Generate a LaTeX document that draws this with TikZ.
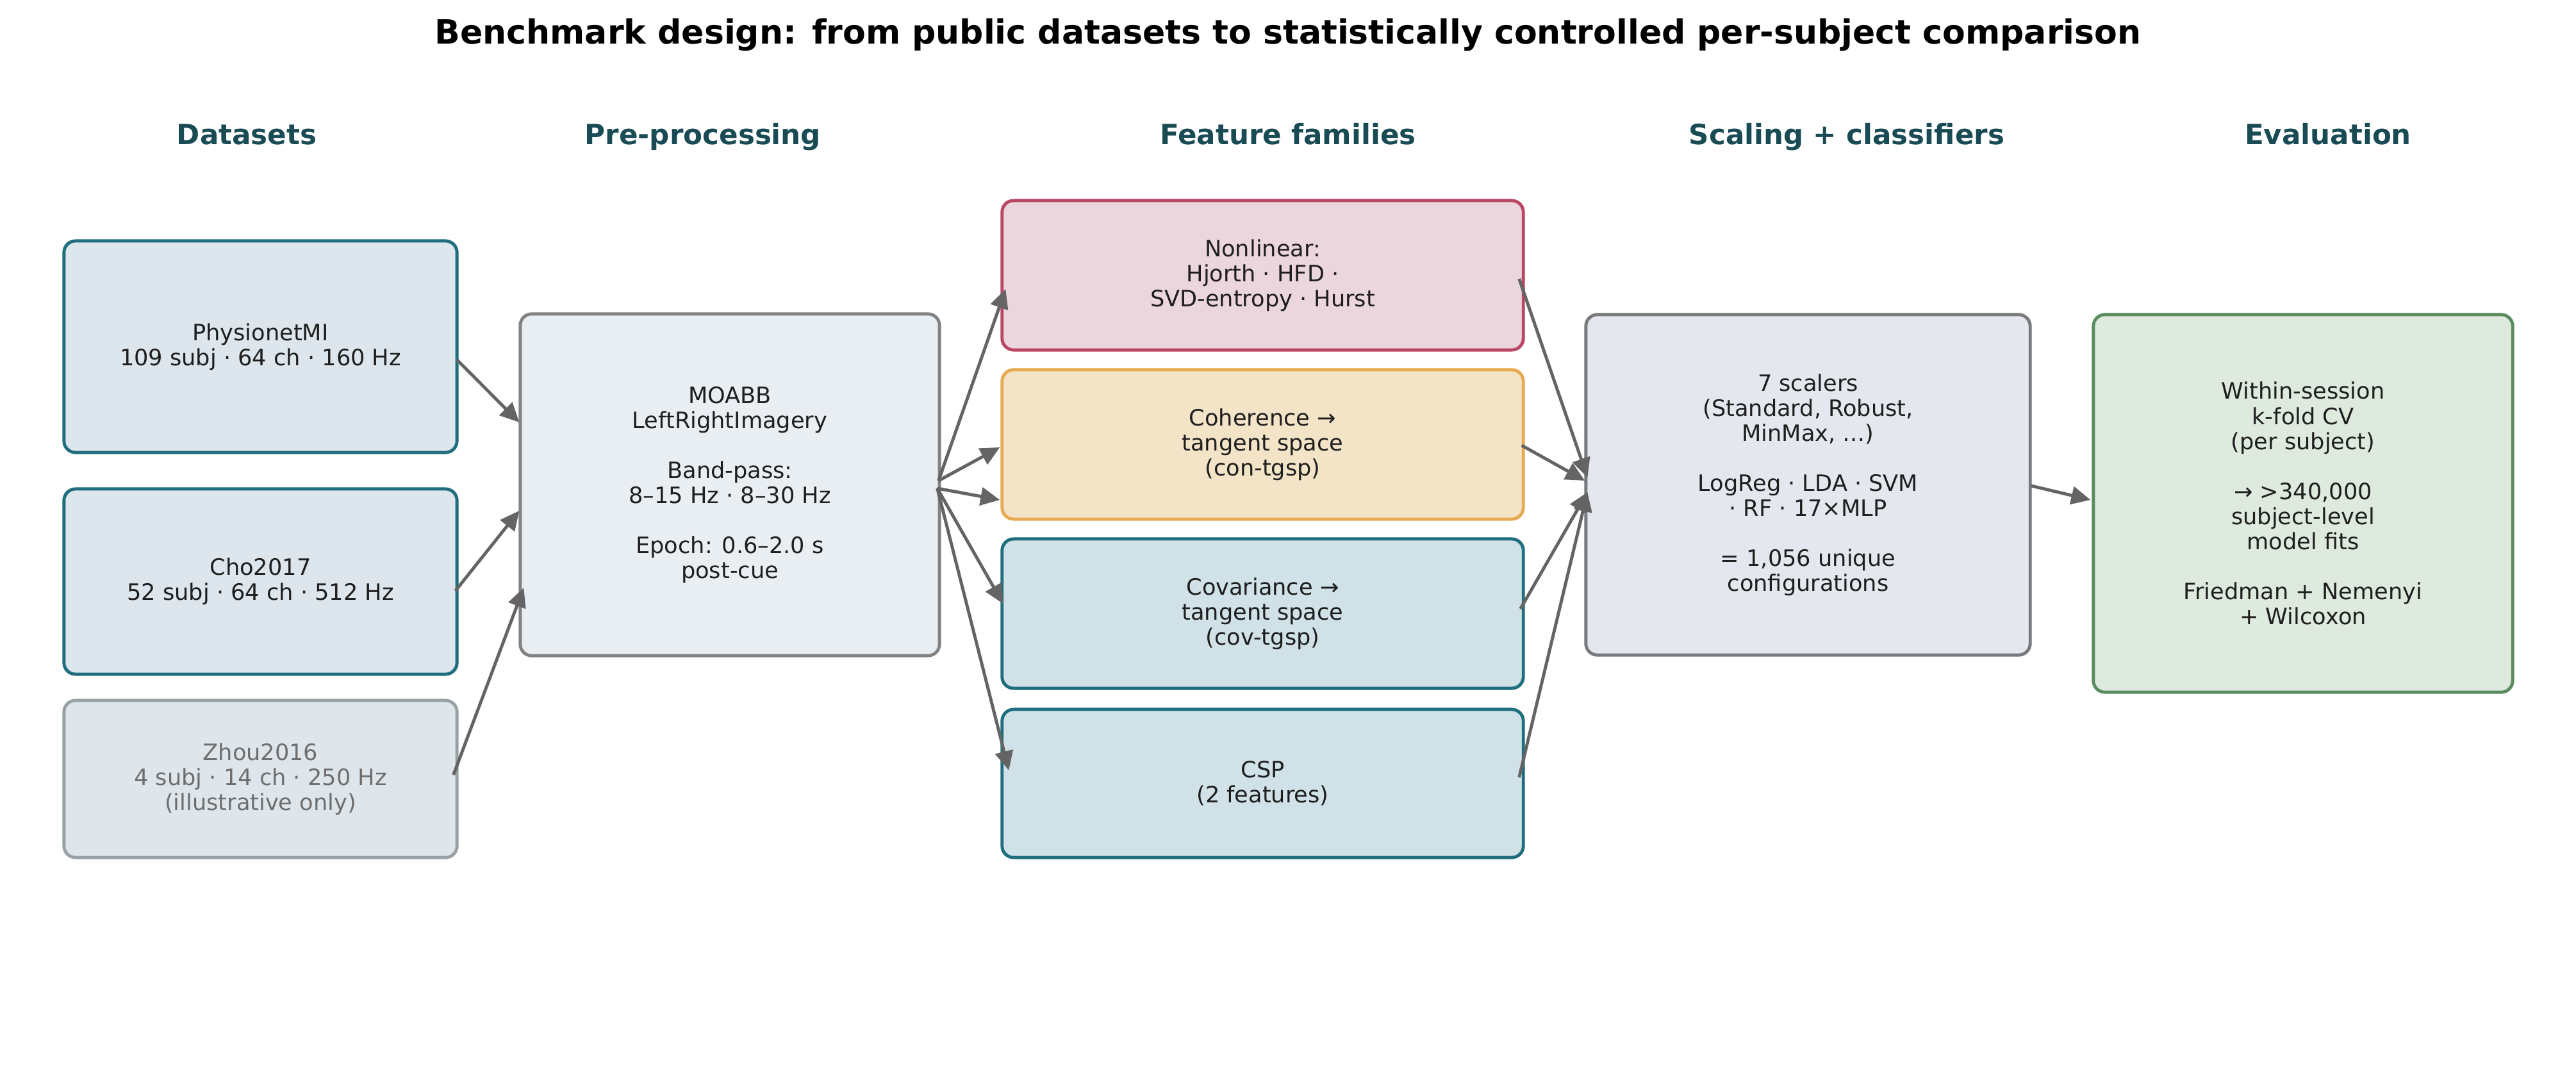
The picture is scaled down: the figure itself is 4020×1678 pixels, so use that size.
\documentclass[tikz,border=0pt]{standalone}
\usepackage{fontspec}
\setmainfont{DejaVu Sans}
\usetikzlibrary{arrows.meta,calc}
\definecolor{txt}{RGB}{30,30,30}
\definecolor{hdrc}{RGB}{25,75,85}
\definecolor{arrowc}{RGB}{100,100,100}
\definecolor{tealb}{RGB}{30,110,125}
\definecolor{physfill}{RGB}{220,230,236}
\definecolor{covfill}{RGB}{208,225,232}
\definecolor{zhoub}{RGB}{152,162,164}
\definecolor{zhoufill}{RGB}{222,230,236}
\definecolor{zhoutxt}{RGB}{110,110,110}
\definecolor{moabbb}{RGB}{130,130,130}
\definecolor{moabbfill}{RGB}{233,238,243}
\definecolor{nonlb}{RGB}{185,70,100}
\definecolor{nonlfill}{RGB}{236,214,221}
\definecolor{cohb}{RGB}{230,170,80}
\definecolor{cohfill}{RGB}{243,228,200}
\definecolor{scalb}{RGB}{120,120,125}
\definecolor{scalfill}{RGB}{228,231,238}
\definecolor{evalb}{RGB}{90,140,95}
\definecolor{evalfill}{RGB}{222,234,222}
\newcommand\bxfont{\fontsize{10pt}{11.1pt}\selectfont}
\newcommand\hdrfont{\fontsize{12.4pt}{14pt}\selectfont\bfseries}
\newcommand\ttlfont{\fontsize{14.8pt}{17pt}\selectfont\bfseries}
\tikzset{
  box/.style={draw, rounded corners=0.18cm, line width=1.4pt, align=center, inner sep=0pt, font=\bxfont, text=txt},
  conn/.style={-{Triangle[length=0.3cm,width=0.28cm]}, line width=1.4pt, draw=arrowc, fill=arrowc},
  hdr/.style={font=\hdrfont, text=hdrc, inner sep=0pt, anchor=base},
}
\begin{document}
\begin{tikzpicture}[x=0.01cm, y=-0.01cm]
\useasboundingbox (0,0) rectangle (4020,1678);
\fill[white] (0,0) rectangle (4020,1678);

\node[font=\ttlfont, text=black, inner sep=0pt, anchor=base] (title) at (2010,68) {Benchmark design: from public datasets to statistically controlled per-subject comparison};

\node[hdr] (h1) at (385,225) {Datasets};
\node[hdr] (h2) at (1097,225) {Pre-processing};
\node[hdr] (h3) at (2010,225) {Feature families};
\node[hdr] (h4) at (2882,225) {Scaling + classifiers};
\node[hdr] (h5) at (3633,225) {Evaluation};

\node[box, draw=tealb, fill=physfill, minimum width=6.13cm, minimum height=3.30cm] (phys) at (406.5,541) {PhysionetMI\\109 subj · 64 ch · 160 Hz};
\node[box, draw=tealb, fill=physfill, minimum width=6.13cm, minimum height=2.89cm] (cho) at (406.5,907.5) {Cho2017\\52 subj · 64 ch · 512 Hz};
\node[box, draw=zhoub, fill=zhoufill, text=zhoutxt, minimum width=6.13cm, minimum height=2.45cm] (zhou) at (406.5,1215.5) {Zhou2016\\4 subj · 14 ch · 250 Hz\\(illustrative only)};

\node[box, draw=moabbb, fill=moabbfill, minimum width=6.54cm, minimum height=5.33cm] (moabb) at (1139,756.5) {MOABB\\LeftRightImagery\\[11.1pt]Band-pass:\\8–15 Hz · 8–30 Hz\\[11.1pt]Epoch: 0.6–2.0 s\\post-cue};

\node[box, draw=nonlb, fill=nonlfill, minimum width=8.13cm, minimum height=2.33cm] (nonlin) at (1970.5,429.5) {Nonlinear:\\Hjorth · HFD ·\\SVD-entropy · Hurst};
\node[box, draw=cohb, fill=cohfill, minimum width=8.13cm, minimum height=2.33cm] (coh) at (1970.5,693.5) {Coherence →\\tangent space\\(con-tgsp)};
\node[box, draw=tealb, fill=covfill, minimum width=8.13cm, minimum height=2.33cm] (cov) at (1970.5,957.5) {Covariance →\\tangent space\\(cov-tgsp)};
\node[box, draw=tealb, fill=covfill, minimum width=8.13cm, minimum height=2.31cm] (csp) at (1970.5,1222.5) {CSP\\(2 features)};

\node[box, draw=scalb, fill=scalfill, minimum width=6.93cm, minimum height=5.31cm] (scal) at (2821.5,756.5) {7 scalers\\(Standard, Robust,\\MinMax, …)\\[11.1pt]LogReg · LDA · SVM\\· RF · 17×MLP\\[11.1pt]= 1,056 unique\\configurations};

\node[box, draw=evalb, fill=evalfill, minimum width=6.54cm, minimum height=5.89cm] (eval) at (3594,785.5) {Within-session\\k-fold CV\\(per subject)\\[11.1pt]→ >340,000\\subject-level\\model fits\\[11.1pt]Friedman + Nemenyi\\+ Wilcoxon};

\draw[conn] ($(phys.east)+(-3,20)$) -- ($(moabb.west)+(1,-97.5)$);
\draw[conn] ($(cho.east)+(-5,14.5)$) -- ($(moabb.west)+(1,40.5)$);
\draw[conn] ($(zhou.east)+(-8,-6.5)$) -- ($(moabb.west)+(8,160.5)$);

\draw[conn] ($(moabb.east)+(-4,-6.5)$) -- ($(nonlin.west)+(8,21.5)$);
\draw[conn] ($(moabb.east)+(-4,-6.5)$) -- ($(coh.west)+(-1,4.5)$);
\draw[conn] ($(moabb.east)+(-6,5.5)$) -- ($(coh.west)+(-1,86.5)$);
\draw[conn] ($(moabb.east)+(-6,5.5)$) -- ($(cov.west)+(4,-15.5)$);
\draw[conn] ($(moabb.east)+(-6,5.5)$) -- ($(csp.west)+(13,-20.5)$);

\draw[conn] ($(nonlin.east)+(-9,5.5)$) -- ($(scal.west)+(5,-11.5)$);
\draw[conn] ($(coh.east)+(-5,1.5)$) -- ($(scal.west)+(1,-6.5)$);
\draw[conn] ($(cov.east)+(-7,-7.5)$) -- ($(scal.west)+(5,11.5)$);
\draw[conn] ($(csp.east)+(-9,-9.5)$) -- ($(scal.west)+(5,11.5)$);

\draw[conn] ($(scal.east)+(-1,1.5)$) -- ($(eval.west)+(-2,-5.5)$);
\end{tikzpicture}
\end{document}
